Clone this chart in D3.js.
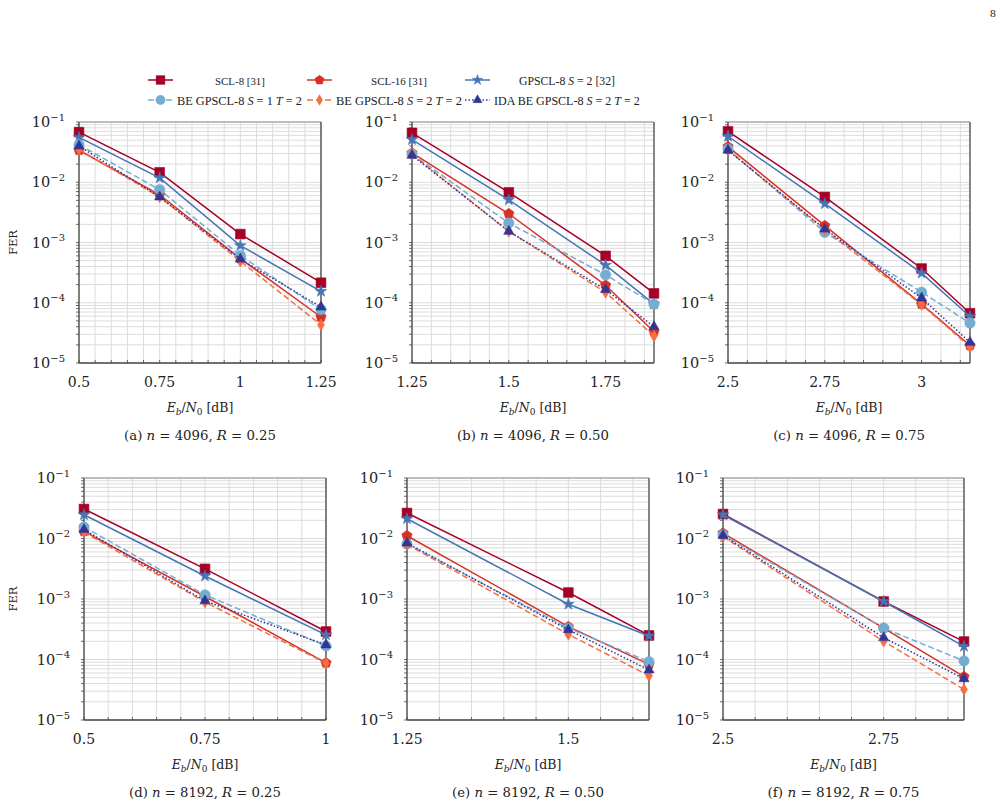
<!DOCTYPE html>
<html>
<head>
<meta charset="utf-8">
<script src="https://cdn.jsdelivr.net/npm/d3@7"></script>
<style>
  body { margin: 0; background: #fff; }
  svg { font-family: "DejaVu Serif", serif; }
</style>
</head>
<body>
<svg id="chart" width="1007" height="806"></svg>
<script>
// x positions (Eb/N0 in dB) of each panel a..f
const xVals = [
  [0.5, 0.75, 1, 1.25],
  [1.25, 1.5, 1.75, 1.875],
  [2.5, 2.75, 3, 3.125],
  [0.5, 0.75, 1],
  [1.25, 1.5, 1.625],
  [2.5, 2.75, 2.875]
];
const xDomains = [[0.5, 1.25], [1.25, 1.875], [2.5, 3.125], [0.5, 1], [1.25, 1.625], [2.5, 2.875]];
const xTicks = [[0.5, 0.75, 1, 1.25], [1.25, 1.5, 1.75], [2.5, 2.75, 3], [0.5, 0.75, 1], [1.25, 1.5], [2.5, 2.75]];
const captions = [
  ["a", "4096", "0.25"], ["b", "4096", "0.50"], ["c", "4096", "0.75"],
  ["d", "8192", "0.25"], ["e", "8192", "0.50"], ["f", "8192", "0.75"]
];

// FER values, one array per panel
const scl8 = [
  [0.068, 0.0146, 0.00138, 2.15e-4],
  [0.066, 0.0068, 6.0e-4, 1.43e-4],
  [0.070, 0.0057, 3.7e-4, 6.7e-5],
  [0.0307, 0.00315, 2.9e-4],
  [0.0264, 0.00128, 2.5e-4],
  [0.0254, 9.1e-4, 1.98e-4]
];
const scl16 = [
  [0.034, 0.0062, 5.4e-4, 5.8e-5],
  [0.0306, 0.0030, 1.95e-4, 3.3e-5],
  [0.039, 0.0019, 9.5e-5, 1.95e-5],
  [0.0131, 0.0011, 8.8e-5],
  [0.0111, 3.5e-4, 8.3e-5],
  [0.0123, 3.3e-4, 5.2e-5]
];
const gpscl = [
  [0.0557, 0.0118, 8.9e-4, 1.55e-4],
  [0.051, 0.0051, 4.2e-4, 9.5e-5],
  [0.058, 0.0044, 3.1e-4, 5.9e-5],
  [0.0247, 0.0024, 2.55e-4],
  [0.0212, 8.2e-4, 2.45e-4],
  [0.0247, 9.1e-4, 1.65e-4]
];
const beS1 = [
  [0.042, 0.0075, 6.1e-4, 7.7e-5],
  [0.0294, 0.0021, 2.9e-4, 9.5e-5],
  [0.0356, 0.00147, 1.5e-4, 4.6e-5],
  [0.0155, 0.00117, 1.68e-4],
  [0.0081, 3.3e-4, 9.2e-5],
  [0.0115, 3.3e-4, 9.5e-5]
];
const beS2 = [
  [0.035, 0.0057, 4.9e-4, 4.3e-5],
  [0.029, 0.00153, 1.49e-4, 2.8e-5],
  [0.034, 0.00163, 9.3e-5, 1.85e-5],
  [0.0128, 8.9e-4, 8.7e-5],
  [0.008, 2.6e-4, 5.4e-5],
  [0.0108, 2.0e-4, 3.2e-5]
];
const ida = [
  [0.040, 0.0057, 5.3e-4, 8.5e-5],
  [0.028, 0.00153, 1.65e-4, 4.0e-5],
  [0.034, 0.00167, 1.2e-4, 2.2e-5],
  [0.014, 9.3e-4, 1.74e-4],
  [0.0084, 3.1e-4, 6.7e-5],
  [0.0112, 2.3e-4, 4.8e-5]
];

// panel boxes in pixels
const boxes = [
  { x0: 79, x1: 321, y0: 122, y1: 363 },
  { x0: 412, x1: 654, y0: 122, y1: 363 },
  { x0: 728, x1: 970, y0: 122, y1: 363 },
  { x0: 84, x1: 326, y0: 478, y1: 720 },
  { x0: 407, x1: 649, y0: 478, y1: 720 },
  { x0: 723, x1: 964, y0: 478, y1: 720 }
];

const pentagon = {
  draw(ctx, size) {
    const r = Math.sqrt(size / 2.378);
    for (let k = 0; k < 5; k++) {
      const a = -Math.PI / 2 + k * 2 * Math.PI / 5;
      const px = r * Math.cos(a), py = r * Math.sin(a);
      if (k === 0) ctx.moveTo(px, py); else ctx.lineTo(px, py);
    }
    ctx.closePath();
  }
};

const series = [
  { name: "SCL-8 [31]", data: scl8, color: "#a50026", dash: null, sym: d3.symbolSquare, size: 95, w: 50 },
  { name: "SCL-16 [31]", data: scl16, color: "#d73027", dash: null, sym: pentagon, size: 70, w: 56 },
  { name: "GPSCL-8", math: [["S", true], [" = 2 [32]", false]], data: gpscl, color: "#4575b4", dash: null, sym: d3.symbolStar, size: 42, w: 96 },
  { name: "BE GPSCL-8", math: [["S", true], [" = 1 ", false], ["T", true], [" = 2", false]], data: beS1, color: "#74add1", dash: "6,3", sym: d3.symbolCircle, size: 85, w: 125 },
  { name: "BE GPSCL-8", math: [["S", true], [" = 2 ", false], ["T", true], [" = 2", false]], data: beS2, color: "#f46d43", dash: "6,3", sym: d3.symbolDiamond, size: 40, w: 126 },
  { name: "IDA BE GPSCL-8", math: [["S", true], [" = 2 ", false], ["T", true], [" = 2", false]], data: ida, color: "#313695", dash: "1.5,2", sym: d3.symbolTriangle, size: 45, w: 146 }
];

const svg = d3.select("#chart");
const axisColor = "#444";

// shrink or grow a text so that it takes the given width
function fitWidth(t, base, target) {
  const w = t.node().getComputedTextLength();
  if (w > 0) t.attr("font-size", base * target / w);
}

boxes.forEach((b, p) => {
  const x = d3.scaleLinear().domain(xDomains[p]).range([b.x0, b.x1]);
  const y = d3.scaleLog().domain([1e-5, 1e-1]).range([b.y1, b.y0]);
  const g = svg.append("g");

  // grid
  const minorX = d3.range(Math.round(xDomains[p][0] * 20), Math.round(xDomains[p][1] * 20) + 1).map(k => k / 20)
    .filter(v => v >= xDomains[p][0] && v <= xDomains[p][1]);
  const yGrid = [];
  for (let e = -5; e < -1; e++) for (let m = 1; m <= 9; m++) yGrid.push(m * Math.pow(10, e));
  yGrid.push(1e-1);

  g.selectAll(".gx").data(minorX).enter().append("line")
    .attr("x1", d => x(d)).attr("x2", d => x(d))
    .attr("y1", b.y0).attr("y2", b.y1)
    .attr("stroke", "#dcdcdc").attr("stroke-width", 1);
  g.selectAll(".gy").data(yGrid).enter().append("line")
    .attr("x1", b.x0).attr("x2", b.x1)
    .attr("y1", d => y(d)).attr("y2", d => y(d))
    .attr("stroke", "#dcdcdc").attr("stroke-width", 1);

  // ticks
  g.selectAll(".ty").data(yGrid).enter().append("line")
    .attr("x1", b.x0 - 3).attr("x2", b.x0)
    .attr("y1", d => y(d)).attr("y2", d => y(d))
    .attr("stroke", axisColor).attr("stroke-width", 0.8);
  g.selectAll(".tx").data(minorX).enter().append("line")
    .attr("x1", d => x(d)).attr("x2", d => x(d))
    .attr("y1", b.y1).attr("y2", b.y1 - 3)
    .attr("stroke", axisColor).attr("stroke-width", 0.8);

  // frame
  g.append("line").attr("x1", b.x0).attr("x2", b.x1).attr("y1", b.y0).attr("y2", b.y0)
    .attr("stroke", "#777").attr("stroke-width", 0.8);
  g.append("line").attr("x1", b.x1).attr("x2", b.x1).attr("y1", b.y0).attr("y2", b.y1)
    .attr("stroke", axisColor).attr("stroke-width", 1.3);
  g.append("line").attr("x1", b.x0).attr("x2", b.x0).attr("y1", b.y0).attr("y2", b.y1)
    .attr("stroke", axisColor).attr("stroke-width", 1.3);
  g.append("line").attr("x1", b.x0).attr("x2", b.x1).attr("y1", b.y1).attr("y2", b.y1)
    .attr("stroke", axisColor).attr("stroke-width", 1.3);

  // y tick labels 10^-k
  [-1, -2, -3, -4, -5].forEach(e => {
    const t = g.append("text").attr("x", b.x0 - 14).attr("y", y(Math.pow(10, e)) + 5)
      .attr("text-anchor", "end").attr("font-size", 14.5).attr("fill", "#222");
    t.append("tspan").text("10");
    t.append("tspan").attr("dy", -6.5).attr("font-size", 10).text("\u2212" + (-e));
  });

  // x tick labels
  g.selectAll(".xl").data(xTicks[p]).enter().append("text")
    .attr("x", d => x(d)).attr("y", b.y1 + 24)
    .attr("text-anchor", "middle").attr("font-size", 14).attr("fill", "#222")
    .text(d => d3.format("")(d));

  // x axis label
  const xc = (b.x0 + b.x1) / 2;
  const xl = g.append("text").attr("x", xc).attr("y", b.y1 + 49)
    .attr("text-anchor", "middle").attr("font-size", 12.5).attr("fill", "#222");
  xl.append("tspan").attr("font-style", "italic").text("E");
  xl.append("tspan").attr("font-style", "italic").attr("font-size", 9).attr("dy", 3).text("b");
  xl.append("tspan").attr("dy", -3).text("/");
  xl.append("tspan").attr("font-style", "italic").text("N");
  xl.append("tspan").attr("font-size", 9).attr("dy", 3).text("0");
  xl.append("tspan").attr("dy", -3).text(" [dB]");

  // caption
  const c = captions[p];
  const cap = g.append("text").attr("x", xc).attr("y", b.y1 + 77)
    .attr("text-anchor", "middle").attr("font-size", 11.5).attr("fill", "#222");
  cap.append("tspan").text("(" + c[0] + ") ");
  cap.append("tspan").attr("font-style", "italic").text("n");
  cap.append("tspan").text(" = " + c[1] + ", ");
  cap.append("tspan").attr("font-style", "italic").text("R");
  cap.append("tspan").text(" = " + c[2]);
  fitWidth(cap, 11.5, 152);

  // FER label on the left column
  if (p % 3 === 0) {
    g.append("text").attr("transform", "translate(17," + ((b.y0 + b.y1) / 2) + ") rotate(-90)")
      .attr("text-anchor", "middle").attr("font-size", 11.5).attr("fill", "#222").text("FER");
  }

  // series
  const line = d3.line().x(d => x(d[0])).y(d => y(d[1]));
  series.forEach(s => {
    const pts = xVals[p].map((v, i) => [v, s.data[p][i]]);
    g.append("path").datum(pts).attr("d", line)
      .attr("fill", "none").attr("stroke", s.color).attr("stroke-width", 1.5)
      .attr("stroke-dasharray", s.dash);
    g.selectAll(null).data(pts).enter().append("path")
      .attr("transform", d => "translate(" + x(d[0]) + "," + y(d[1]) + ")")
      .attr("d", d3.symbol().type(s.sym).size(s.size))
      .attr("fill", s.color).attr("stroke", s.color).attr("stroke-width", 0.6);
  });
});

// legend
const legendCols = [{ lx: 148, cx: 240 }, { lx: 307, cx: 399 }, { lx: 465, cx: 567 }];
series.forEach((s, i) => {
  const col = legendCols[i % 3];
  const ly = i < 3 ? 80 : 100;
  const lg = svg.append("g");
  lg.append("line").attr("x1", col.lx).attr("x2", col.lx + 25).attr("y1", ly).attr("y2", ly)
    .attr("stroke", s.color).attr("stroke-width", 1.5).attr("stroke-dasharray", s.dash);
  lg.append("path").attr("transform", "translate(" + (col.lx + 12.5) + "," + ly + ")")
    .attr("d", d3.symbol().type(s.sym).size(s.size * 0.8)).attr("fill", s.color).attr("stroke", s.color).attr("stroke-width", 0.5);
  const t = lg.append("text").attr("x", i < 3 ? col.cx : col.lx + 29).attr("y", ly + 4.5)
    .attr("text-anchor", i < 3 ? "middle" : "start")
    .attr("font-family", "'Liberation Serif', serif").attr("font-size", 13).attr("fill", "#222");
  t.append("tspan").text(s.name + (s.math ? " " : ""));
  if (s.math) s.math.forEach(m => {
    t.append("tspan").attr("font-style", m[1] ? "italic" : null).text(m[0]);
  });
  fitWidth(t, 13, s.w);
});

// page number
svg.append("text").attr("x", 993).attr("y", 17).attr("text-anchor", "middle")
  .attr("font-size", 10).attr("fill", "#222").text("8");
</script>
</body>
</html>
